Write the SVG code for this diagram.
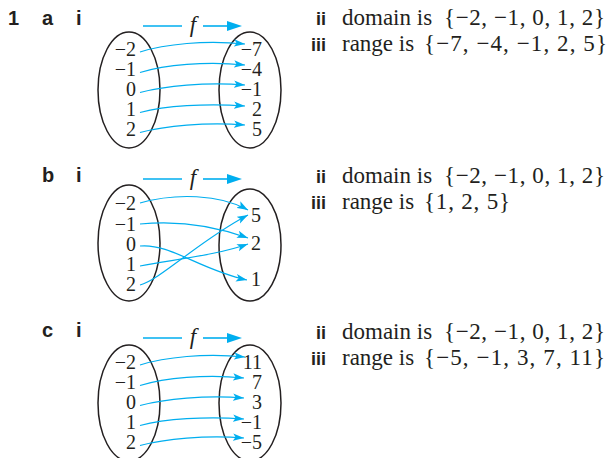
<svg xmlns="http://www.w3.org/2000/svg" width="613" height="458" viewBox="0 0 613 458">
<style>
.hd{font-family:"Liberation Sans",Arial,sans-serif;font-weight:bold;font-size:20px;fill:#231f20}
.lb{font-family:"Liberation Sans",Arial,sans-serif;font-weight:bold;font-size:18px;fill:#231f20;text-anchor:end}
.num{font-family:"Liberation Serif","Times New Roman",serif;font-size:20px;fill:#231f20;text-anchor:end}
.tx{font-family:"Liberation Serif","Times New Roman",serif;font-size:23px;fill:#231f20}
.fi{font-family:"Liberation Serif","Times New Roman",serif;font-style:italic;font-size:23px;fill:#231f20;text-anchor:middle}
.ell{fill:none;stroke:#231f20;stroke-width:1.5}
.cv{fill:none;stroke:#00aeef;stroke-width:1.2;marker-end:url(#ah)}
.fl{stroke:#00aeef;stroke-width:1.6}
.fh{fill:#00aeef}
</style>
<defs>
<marker id="ah" markerWidth="12" markerHeight="8" refX="11" refY="3.75" orient="auto" markerUnits="userSpaceOnUse">
<path d="M0,0 L11,3.75 L0,7.5 L2.5,3.75 z" fill="#00aeef"/>
</marker>
</defs>

<!-- Part a -->
<g id="part-a">
<g id="a-heading">
<text class="hd" x="8" y="25">1</text>
<text class="hd" x="42" y="25">a</text>
<text class="hd" x="76" y="25">i</text>
</g>
<g id="a-f">
<line class="fl" x1="143" y1="26" x2="182" y2="26"/>
<text class="fi" x="193" y="32">f</text>
<line class="fl" x1="203" y1="26" x2="230" y2="26"/>
<polygon class="fh" points="227,21 242,26 227,31"/>
</g>
<g id="a-domain">
<ellipse class="ell" cx="129" cy="90" rx="31" ry="58"/>
<text class="num" x="136" y="56">−2</text>
<text class="num" x="136" y="76">−1</text>
<text class="num" x="136" y="96">0</text>
<text class="num" x="136" y="116">1</text>
<text class="num" x="136" y="136">2</text>
</g>
<g id="a-range">
<ellipse class="ell" cx="250" cy="90" rx="31" ry="58"/>
<text class="num" x="262" y="56">−7</text>
<text class="num" x="262" y="76">−4</text>
<text class="num" x="262" y="96">−1</text>
<text class="num" x="262" y="116">2</text>
<text class="num" x="262" y="136">5</text>
</g>
<g id="a-connectors">
<path class="cv" d="M140,52 C165,44 205,40 245,44"/>
<path class="cv" d="M140,72.5 C165,65 205,61 245,65"/>
<path class="cv" d="M140,92.5 C165,86 205,82 245,85"/>
<path class="cv" d="M140,112.5 C165,106 205,103 245,106"/>
<path class="cv" d="M140,132.5 C165,126 205,122 245,125"/>
</g>
<g id="a-answers">
<text class="lb" x="326" y="25">ii</text>
<text class="tx" x="342" y="25">domain is</text>
<text class="tx" x="444" y="25" textLength="161" lengthAdjust="spacing">{−2, −1, 0, 1, 2}</text>
<text class="lb" x="326" y="51">iii</text>
<text class="tx" x="342" y="51">range is</text>
<text class="tx" x="424" y="51" textLength="183" lengthAdjust="spacing">{−7, −4, −1, 2, 5}</text>
</g>
</g>

<!-- Part b -->
<g id="part-b">
<g id="b-heading">
<text class="hd" x="42" y="182">b</text>
<text class="hd" x="76" y="182">i</text>
</g>
<g id="b-f">
<line class="fl" x1="143" y1="179" x2="182" y2="179"/>
<text class="fi" x="193" y="185">f</text>
<line class="fl" x1="203" y1="179" x2="230" y2="179"/>
<polygon class="fh" points="227,174 242,179 227,184"/>
</g>
<g id="b-domain">
<ellipse class="ell" cx="129" cy="243" rx="31" ry="58"/>
<text class="num" x="136" y="210">−2</text>
<text class="num" x="136" y="231">−1</text>
<text class="num" x="136" y="251">0</text>
<text class="num" x="136" y="271">1</text>
<text class="num" x="136" y="291">2</text>
</g>
<g id="b-range">
<ellipse class="ell" cx="250" cy="245" rx="31" ry="56"/>
<text class="num" x="261" y="222">5</text>
<text class="num" x="261" y="250">2</text>
<text class="num" x="261" y="286">1</text>
</g>
<g id="b-connectors">
<path class="cv" d="M140,203 C175,193 220,194 248,210"/>
<path class="cv" d="M140,224 C180,220 215,226 248,238"/>
<path class="cv" d="M140,246 C170,243 200,270 247,280"/>
<path class="cv" d="M140,266 C185,258 220,254 248,244"/>
<path class="cv" d="M140,285 C160,280 200,240 248,215"/>
</g>
<g id="b-answers">
<text class="lb" x="326" y="183">ii</text>
<text class="tx" x="342" y="183">domain is</text>
<text class="tx" x="444" y="183" textLength="161" lengthAdjust="spacing">{−2, −1, 0, 1, 2}</text>
<text class="lb" x="326" y="209">iii</text>
<text class="tx" x="342" y="209">range is</text>
<text class="tx" x="424" y="209" textLength="86" lengthAdjust="spacing">{1, 2, 5}</text>
</g>
</g>

<!-- Part c -->
<g id="part-c">
<g id="c-heading">
<text class="hd" x="42" y="337">c</text>
<text class="hd" x="76" y="337">i</text>
</g>
<g id="c-f">
<line class="fl" x1="143" y1="338" x2="182" y2="338"/>
<text class="fi" x="193" y="344">f</text>
<line class="fl" x1="203" y1="338" x2="230" y2="338"/>
<polygon class="fh" points="227,333 242,338 227,343"/>
</g>
<g id="c-domain">
<ellipse class="ell" cx="129" cy="403" rx="31" ry="58"/>
<text class="num" x="136" y="369">−2</text>
<text class="num" x="136" y="389">−1</text>
<text class="num" x="136" y="409">0</text>
<text class="num" x="136" y="429">1</text>
<text class="num" x="136" y="449">2</text>
</g>
<g id="c-range">
<ellipse class="ell" cx="250" cy="403" rx="31" ry="58"/>
<text class="num" x="262" y="369">11</text>
<text class="num" x="262" y="389">7</text>
<text class="num" x="262" y="409">3</text>
<text class="num" x="262" y="429">−1</text>
<text class="num" x="262" y="449">−5</text>
</g>
<g id="c-connectors">
<path class="cv" d="M140,365 C165,357 205,353 245,357"/>
<path class="cv" d="M140,385.5 C165,378 205,374 244,378"/>
<path class="cv" d="M140,405.5 C165,399 205,395 244,398"/>
<path class="cv" d="M140,425.5 C165,419 205,416 244,419"/>
<path class="cv" d="M140,445.5 C165,439 205,435 244,438"/>
</g>
<g id="c-answers">
<text class="lb" x="326" y="339">ii</text>
<text class="tx" x="342" y="339">domain is</text>
<text class="tx" x="444" y="339" textLength="161" lengthAdjust="spacing">{−2, −1, 0, 1, 2}</text>
<text class="lb" x="326" y="365">iii</text>
<text class="tx" x="342" y="365">range is</text>
<text class="tx" x="424" y="365" textLength="181" lengthAdjust="spacing">{−5, −1, 3, 7, 11}</text>
</g>
</g>
</svg>
